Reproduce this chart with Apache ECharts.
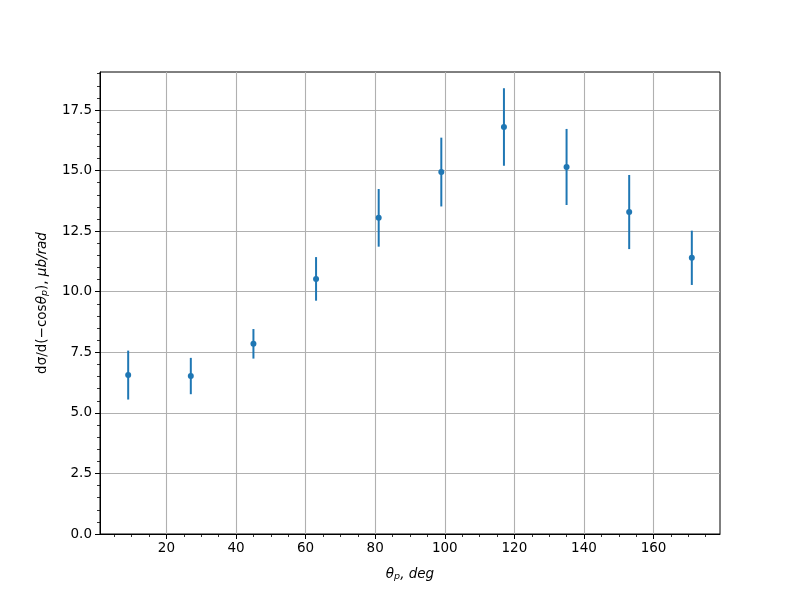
<!DOCTYPE html>
<html>
<head>
<meta charset="utf-8">
<script src="https://cdn.jsdelivr.net/npm/echarts@6/dist/echarts.min.js"></script>
<style>html,body{margin:0;padding:0;background:#fff}#c{width:800px;height:600px}</style>
</head>
<body>
<div id="c"></div>
<script>
// Data
const theta = [9, 27, 45, 63, 81, 99, 117, 135, 153, 171];
const xsec = [6.56, 6.52, 7.85, 10.53, 13.05, 14.94, 16.80, 15.15, 13.29, 11.40];
const errs = [1.01, 0.75, 0.61, 0.90, 1.19, 1.42, 1.60, 1.57, 1.53, 1.12];
const xMajorTicks = [20, 40, 60, 80, 100, 120, 140, 160];
const xMinorTicks = [5, 10, 15, 25, 30, 35, 45, 50, 55, 65, 70, 75, 85, 90, 95, 105, 110, 115, 125, 130, 135, 145, 150, 155, 165, 170, 175];
const yMajorTicks = [0, 2.5, 5, 7.5, 10, 12.5, 15, 17.5];
const yMinorTicks = [0.5, 1, 1.5, 2, 3, 3.5, 4, 4.5, 5.5, 6, 6.5, 7, 8, 8.5, 9, 9.5, 10.5, 11, 11.5, 12, 13, 13.5, 14, 14.5, 15.5, 16, 16.5, 17, 18, 18.5, 19];

const xMin = 0.9, xMax = 179.1, yMin = 0, yMax = 19.07;
const FONT = 'DejaVu Sans';
const BLUE = '#1f77b4';

const chart = echarts.init(document.getElementById('c'), null, {renderer: 'canvas'});

const errData = theta.map((t, i) => [t, xsec[i] - errs[i], xsec[i] + errs[i]]);
const ptData = theta.map((t, i) => [t, xsec[i]]);

chart.setOption({
  animation: false,
  backgroundColor: '#fff',
  grid: {left: 100, right: 80, top: 72, bottom: 66, show: true, borderColor: '#000', borderWidth: 1, backgroundColor: 'transparent'},
  xAxis: [{
    type: 'value', min: xMin, max: xMax,
    axisLine: {show: true, onZero: false, lineStyle: {color: '#000', width: 1}},
    axisTick: {show: true, inside: false, length: 5, customValues: xMajorTicks, lineStyle: {color: '#000', width: 1}},
    axisLabel: {show: true, customValues: xMajorTicks, color: '#000', fontFamily: FONT, fontSize: 13.5, margin: 7},
    splitLine: {show: true, lineStyle: {color: '#b0b0b0', width: 1.1}},
    name: '{i|θ}{s|p}{i|, deg}',
    nameLocation: 'middle', nameGap: 32,
    nameTextStyle: {
      color: '#000', fontFamily: FONT, fontSize: 13.5,
      rich: {
        i: {fontFamily: FONT, fontStyle: 'italic', fontSize: 13.5, color: '#000'},
        s: {fontFamily: FONT, fontStyle: 'italic', fontSize: 9.5, color: '#000', verticalAlign: 'bottom', padding: [6, 0, 0, 0]}
      }
    }
  }, {
    type: 'value', min: xMin, max: xMax, position: 'bottom',
    axisLine: {show: false},
    axisTick: {show: true, length: 3, customValues: xMinorTicks, lineStyle: {color: '#000', width: 0.8}},
    axisLabel: {show: false},
    splitLine: {show: false}
  }],
  yAxis: [{
    type: 'value', min: yMin, max: yMax,
    axisLine: {show: true, onZero: false, lineStyle: {color: '#000', width: 1}},
    axisTick: {show: true, length: 5, customValues: yMajorTicks, lineStyle: {color: '#000', width: 1}},
    axisLabel: {show: true, customValues: yMajorTicks, color: '#000', fontFamily: FONT, fontSize: 13.5, margin: 8,
      formatter: v => v.toFixed(1)},
    splitLine: {show: true, lineStyle: {color: '#b0b0b0', width: 1.1}},
    name: '{n|dσ/d(−cos}{i|θ}{s|p}{n|), }{i|μb/rad}',
    nameLocation: 'middle', nameGap: 50, nameRotate: 90,
    nameTextStyle: {
      color: '#000', fontFamily: FONT, fontSize: 13.5,
      rich: {
        n: {fontFamily: FONT, fontSize: 13.5, color: '#000'},
        i: {fontFamily: FONT, fontStyle: 'italic', fontSize: 13.5, color: '#000'},
        s: {fontFamily: FONT, fontStyle: 'italic', fontSize: 9.5, color: '#000', verticalAlign: 'bottom', padding: [6, 0, 0, 0]}
      }
    }
  }, {
    type: 'value', min: yMin, max: yMax, position: 'left',
    axisLine: {show: false},
    axisTick: {show: true, length: 3, customValues: yMinorTicks, lineStyle: {color: '#000', width: 0.8}},
    axisLabel: {show: false},
    splitLine: {show: false}
  }],
  series: [{
    type: 'custom',
    xAxisIndex: 0, yAxisIndex: 0,
    data: errData,
    renderItem: function (params, api) {
      const lo = api.coord([api.value(0), api.value(1)]);
      const hi = api.coord([api.value(0), api.value(2)]);
      return {
        type: 'line',
        shape: {x1: lo[0], y1: lo[1], x2: hi[0], y2: hi[1]},
        style: {stroke: BLUE, lineWidth: 2}
      };
    },
    encode: {x: 0, y: [1, 2]},
    z: 3
  }, {
    type: 'scatter',
    xAxisIndex: 0, yAxisIndex: 0,
    data: ptData,
    symbol: 'circle', symbolSize: 6,
    itemStyle: {color: BLUE, opacity: 1},
    z: 4
  }]
});
</script>
</body>
</html>
